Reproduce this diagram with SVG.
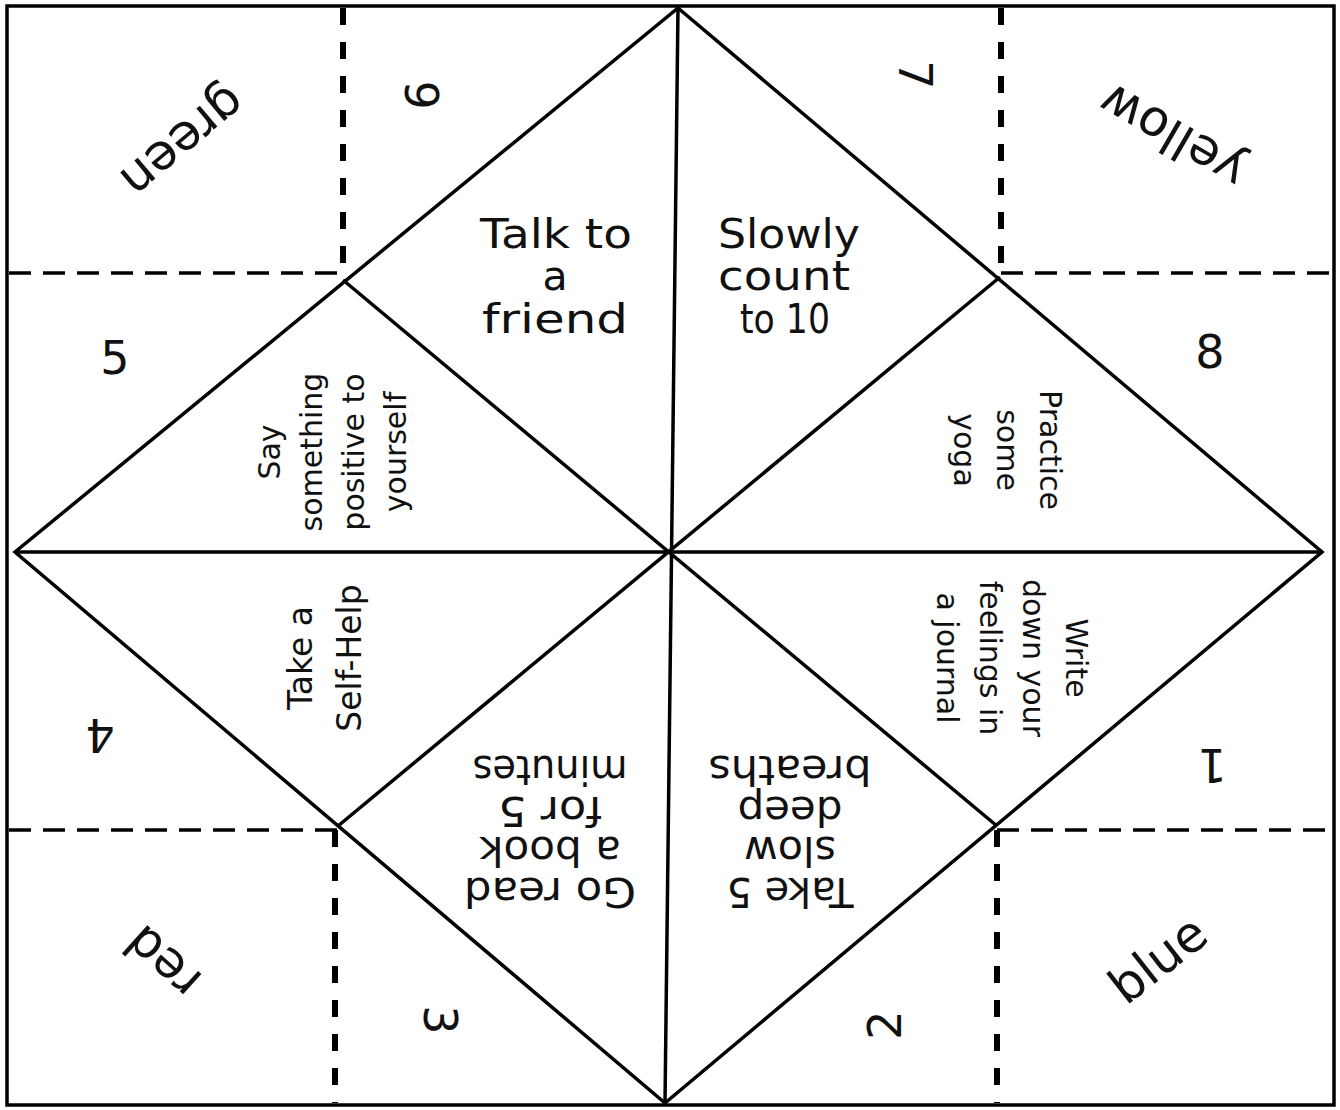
<svg xmlns="http://www.w3.org/2000/svg" width="1340" height="1110" viewBox="0 0 1340 1110">
<style>
.solid{stroke:#000;stroke-width:3.5;fill:none;stroke-linejoin:miter}
.dv{stroke:#000;stroke-width:6;stroke-dasharray:17 17;fill:none}
.dh{stroke:#000;stroke-width:3.5;stroke-dasharray:22 12;fill:none}
text{font-family:"DejaVu Sans","Liberation Sans",sans-serif;fill:#111;text-anchor:middle}
.big{font-size:41px}
.sm{font-size:30px}
.md{font-size:33px}
.num{font-size:46px}
.col{font-size:50px}
</style>
<rect x="0" y="0" width="1340" height="1110" fill="#fff"/>
<g id="connectors">
<rect x="7" y="6" width="1327" height="1099" class="solid" stroke-width="4.5"/>
<path class="solid" d="M678,8 L1322,552 L665,1103 L15,552 Z"/>
<path class="solid" d="M15,552 L1322,552"/>
<path class="solid" d="M678,8 L665,1103"/>
<path class="solid" d="M343,280 L997,826"/>
<path class="solid" d="M1000,277 L338,826"/>
<path class="dv" d="M343,8 V280"/>
<path class="dh" d="M9,273 H343"/>
<path class="dv" d="M1001,8 V277"/>
<path class="dh" d="M1001,273 H1332"/>
<path class="dh" d="M9,830 H338"/>
<path class="dv" d="M335,830 V1103"/>
<path class="dh" d="M997,830 H1332"/>
<path class="dv" d="M997,830 V1103"/>
</g>
<g id="node-green"><text class="col" transform="translate(180,138) rotate(140)" y="12">green</text></g>
<g id="node-yellow"><text class="col" transform="translate(1175,132) rotate(210)" y="12">yellow</text></g>
<g id="node-red"><text class="col" transform="translate(165,960) rotate(222)" y="14">red</text></g>
<g id="node-blue"><text class="col" transform="translate(1160,962) rotate(-38)" y="14">blue</text></g>
<g id="node-6"><text class="num" transform="translate(423,95) rotate(-90)" y="16">6</text></g>
<g id="node-7"><text class="num" transform="translate(915,75) rotate(90)" y="16">7</text></g>
<g id="node-5"><text class="num" transform="translate(115,358)" y="16">5</text></g>
<g id="node-8"><text class="num" transform="translate(1210,352)" y="16">8</text></g>
<g id="node-4"><text class="num" transform="translate(100,735) rotate(180)" y="16">4</text></g>
<g id="node-1"><text class="num" transform="translate(1212,765) rotate(180)" y="16">1</text></g>
<g id="node-3"><text class="num" transform="translate(440,1020) rotate(90)" y="16">3</text></g>
<g id="node-2"><text class="num" transform="translate(885,1025) rotate(-90)" y="16">2</text></g>
<g id="node-talk">
<text class="big" x="556" y="248" textLength="152" lengthAdjust="spacingAndGlyphs">Talk to</text>
<text class="big" x="555" y="290">a</text>
<text class="big" x="555" y="333" textLength="146" lengthAdjust="spacingAndGlyphs">friend</text>
</g>
<g id="node-count">
<text class="big" x="789" y="248" textLength="142" lengthAdjust="spacingAndGlyphs">Slowly</text>
<text class="big" x="784" y="290" textLength="132" lengthAdjust="spacingAndGlyphs">count</text>
<text class="big" x="785" y="333" textLength="90" lengthAdjust="spacingAndGlyphs">to 10</text>
</g>
<g id="node-say">
<g transform="translate(335,452) rotate(-90)">
<text class="sm" x="0" y="-55">Say</text>
<text class="sm" x="0" y="-13">something</text>
<text class="sm" x="0" y="29">positive to</text>
<text class="sm" x="0" y="71">yourself</text>
</g>
</g>
<g id="node-yoga">
<g transform="translate(1005,450) rotate(90)">
<text class="sm" x="0" y="-35">Practice</text>
<text class="sm" x="0" y="8">some</text>
<text class="sm" x="0" y="51">yoga</text>
</g>
</g>
<g id="node-write">
<g transform="translate(1010,658) rotate(90)">
<text class="sm" x="0" y="-56">Write</text>
<text class="sm" x="0" y="-13">down your</text>
<text class="sm" x="0" y="30">feelings in</text>
<text class="sm" x="0" y="73">a journal</text>
</g>
</g>
<g id="node-selfhelp">
<g transform="translate(325,658) rotate(-90)">
<text class="md" x="0" y="-13">Take a</text>
<text class="md" x="0" y="36">Self-Help</text>
</g>
</g>
<g id="node-read">
<g transform="translate(550,830) rotate(180)">
<text class="big" x="0" y="-48" textLength="172" lengthAdjust="spacingAndGlyphs">Go read</text>
<text class="big" x="0" y="-7" textLength="142" lengthAdjust="spacingAndGlyphs">a book</text>
<text class="big" x="0" y="33" textLength="104" lengthAdjust="spacingAndGlyphs">for 5</text>
<text class="big" x="0" y="74" textLength="155" lengthAdjust="spacingAndGlyphs">minutes</text>
</g>
</g>
<g id="node-breaths">
<g transform="translate(790,830) rotate(180)">
<text class="big" x="0" y="-48" textLength="127" lengthAdjust="spacingAndGlyphs">Take 5</text>
<text class="big" x="0" y="-7" textLength="92" lengthAdjust="spacingAndGlyphs">slow</text>
<text class="big" x="0" y="33" textLength="105" lengthAdjust="spacingAndGlyphs">deep</text>
<text class="big" x="0" y="74" textLength="163" lengthAdjust="spacingAndGlyphs">breaths</text>
</g>
</g>
</svg>
